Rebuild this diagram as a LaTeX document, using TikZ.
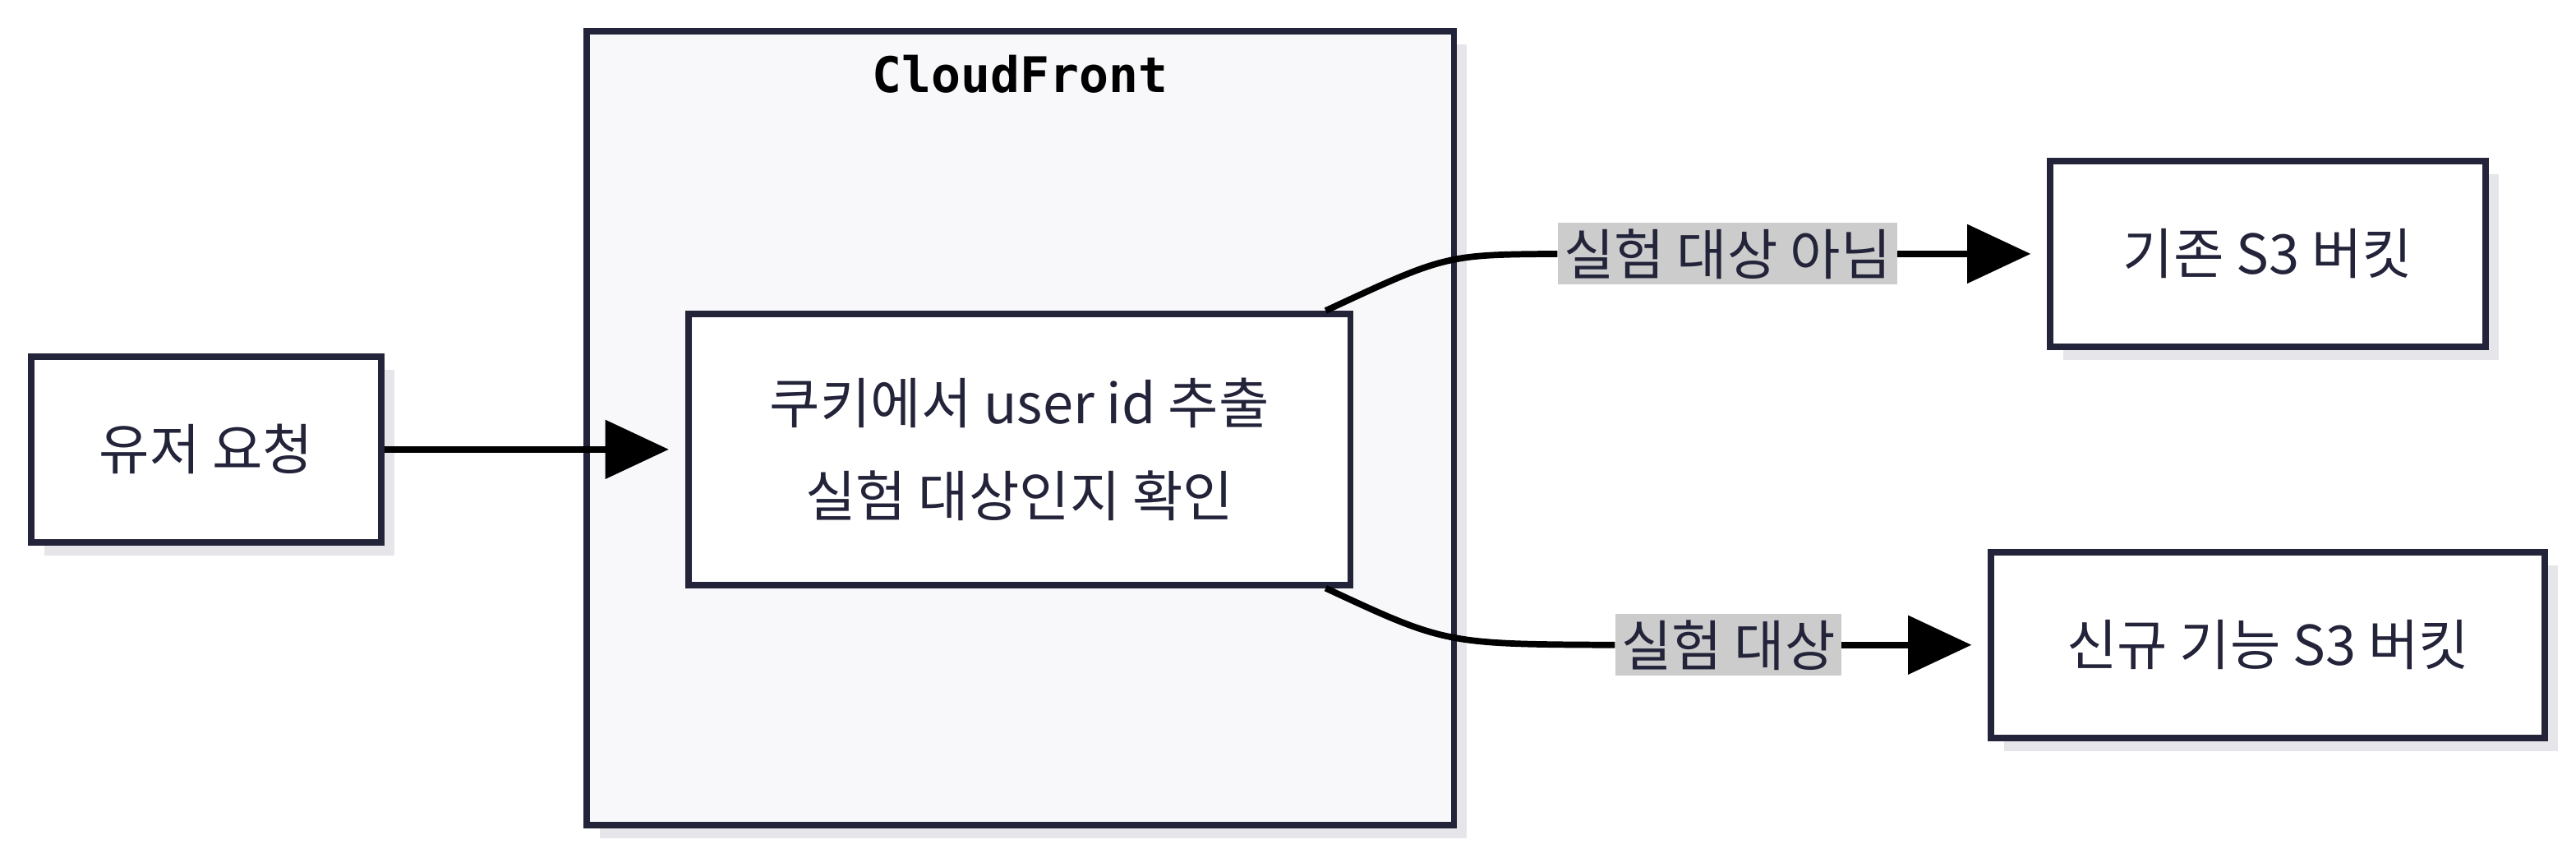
\documentclass[tikz,border=0pt]{standalone}
\usepackage{fontspec}
\newfontfamily\kr{Noto Sans CJK KR}
\newfontfamily\mono{DejaVu Sans Mono}
\usetikzlibrary{arrows.meta}
\definecolor{ink}{HTML}{23233A}
\definecolor{pane}{HTML}{F8F8FB}
\definecolor{shade}{HTML}{E6E6EA}
\definecolor{tag}{HTML}{CCCCCC}
\begin{document}
\begin{tikzpicture}[x=0.02cm,y=-0.02cm]
  % stili
  \tikzset{box/.style={draw=ink, line width=2.2pt, fill=white, font=\kr\fontsize{19}{24}\selectfont, text=ink, align=center, inner sep=0pt},
    shadow/.style={fill=shade, draw=none},
    arc/.style={line width=2.2pt, black, shorten >=0.2cm, -{Triangle[length=22pt,width=20pt]}},
    link/.style={line width=2.2pt, black},
    tagbox/.style={fill=tag, font=\kr\fontsize{19}{24}\selectfont, text=ink, inner sep=2pt}}
  \useasboundingbox (0,0) rectangle (1568,522);

  % ombre
  \fill[shadow] (365,27) rectangle (893,510);
  \fill[shadow] (27,225) rectangle (240,338);
  \fill[shadow] (427,199) rectangle (830,364);
  \fill[shadow] (1256,106) rectangle (1521,219);
  \fill[shadow] (1220,344) rectangle (1557,457);

  % CloudFront
  \node[box, fill=pane, minimum width=528*0.02cm, minimum height=483*0.02cm] (cf) at (621,260.5) {};
  \node[font=\mono\bfseries\fontsize{17}{20}\selectfont, text=black] (cftitle) at (621,45) {CloudFront};

  % nodi
  \node[box, minimum width=213*0.02cm, minimum height=113*0.02cm] (user) at (125.5,273.5) {유저 요청};
  \node[box, minimum width=403*0.02cm, minimum height=165*0.02cm] (check) at (620.5,273.5)
    {쿠키에서 user id 추출\\[8pt]실험 대상인지 확인};
  \node[box, minimum width=265*0.02cm, minimum height=113*0.02cm] (old) at (1380.5,154.5) {기존 S3 버킷};
  \node[box, minimum width=337*0.02cm, minimum height=113*0.02cm] (new) at (1380.5,392.5) {신규 기능 S3 버킷};

  % etichette
  \node[tagbox, anchor=west] (no) at (948,154.5) {실험 대상 아님};
  \node[tagbox, anchor=west] (yes) at (983,392.5) {실험 대상};

  % frecce
  \draw[arc] (user) -- (check);
  \draw[link] ([xshift=-0.34cm]check.north east) .. controls (880,155) .. (no.west);
  \draw[arc] (no.east) -- (old.west);
  \draw[link] ([xshift=-0.34cm]check.south east) .. controls (880,392) .. (yes.west);
  \draw[arc] (yes.east) -- (new.west);
\end{tikzpicture}
\end{document}
